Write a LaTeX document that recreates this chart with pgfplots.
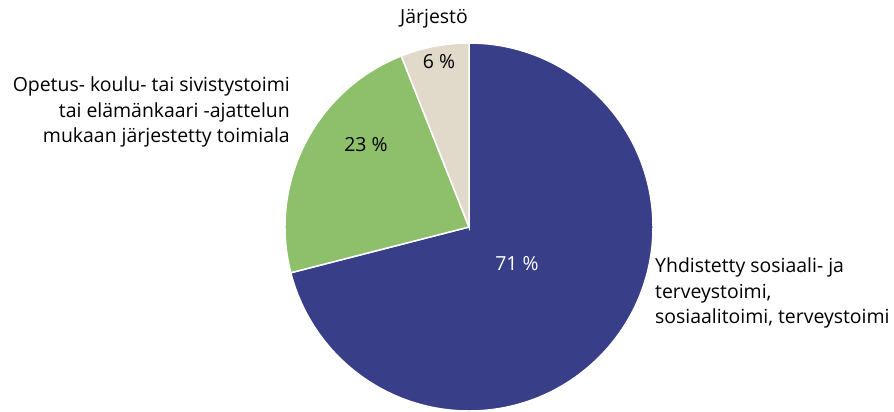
\documentclass[border=0pt]{standalone}
\usepackage{pgfplots}
\pgfplotsset{compat=1.18}
\usepackage{pgfplotstable}
\usepackage{fontspec}
\setmainfont{Open Sans}
\definecolor{cblue}{HTML}{383E88}
\definecolor{cgreen}{HTML}{8EC06C}
\definecolor{cbeige}{HTML}{E1D9CA}
\newcommand\lf{\fontsize{19.5}{25.5}\selectfont}
\pgfplotstableread{
share
71
23
6
}\piedata
\pgfplotstablegetelem{0}{share}\of\piedata \let\vA\pgfplotsretval
\pgfplotstablegetelem{1}{share}\of\piedata \let\vB\pgfplotsretval
\pgfplotstablegetelem{2}{share}\of\piedata \let\vC\pgfplotsretval
\pgfmathsetmacro\aZ{90}
\pgfmathsetmacro\aA{90-3.6*\vA}
\pgfmathsetmacro\aB{\aA-3.6*\vB}
\pgfmathsetmacro\aC{\aB-3.6*\vC}
\begin{document}
\begin{tikzpicture}
\begin{axis}[
  scale only axis, width=894bp, height=408bp,
  xmin=0, xmax=894, ymin=0, ymax=408,
  hide axis, clip=false,
]
\path (axis cs:0,0) rectangle (axis cs:894,408);
\def\R{184bp}
\fill[cblue, draw=white, line width=1.5pt] (axis cs:469,181) -- ++(\aZ:\R) arc[start angle=\aZ, end angle=\aA, radius=\R] -- cycle;
\fill[cgreen, draw=white, line width=1.5pt] (axis cs:469,181) -- ++(\aA:\R) arc[start angle=\aA, end angle=\aB, radius=\R] -- cycle;
\fill[cbeige, draw=white, line width=1.5pt] (axis cs:469,181) -- ++(\aB:\R) arc[start angle=\aB, end angle=\aC, radius=\R] -- cycle;
\node[font=\lf] at (axis cs:434,389) {Järjestö};
\node[font=\lf] at (axis cs:439,346) {6 \%};
\node[font=\lf] at (axis cs:366,263) {23 \%};
\node[font=\lf, text=white] at (axis cs:517,144) {71 \%};
\node[font=\lf, anchor=east, align=right, inner sep=0pt] at (axis cs:290,296) {Opetus- koulu- tai sivistystoimi\\tai elämänkaari -ajattelun\\mukaan järjestetty toimiala};
\node[font=\lf, anchor=west, align=left, inner sep=0pt] at (axis cs:655,115) {Yhdistetty sosiaali- ja\\terveystoimi,\\sosiaalitoimi, terveystoimi};
\end{axis}
\end{tikzpicture}
\end{document}
